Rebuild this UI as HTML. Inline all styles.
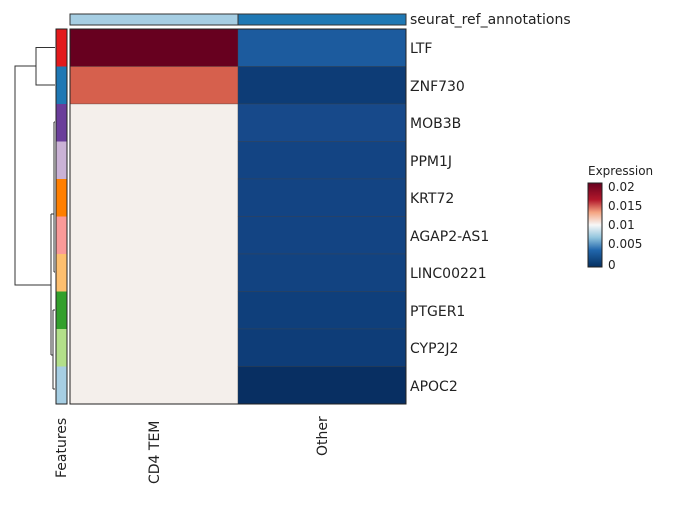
<!DOCTYPE html>
<html><head><style>
body{margin:0;background:#fff;width:678px;height:500px;overflow:hidden}
svg text{font-family:"DejaVu Sans","Liberation Sans",sans-serif;fill:#222}
</style></head><body>
<svg width="678" height="500" xmlns="http://www.w3.org/2000/svg">
<defs><linearGradient id="g" x1="0" y1="1" x2="0" y2="0">
<stop offset="0" stop-color="#053061"/><stop offset="0.2" stop-color="#2166ac"/><stop offset="0.35" stop-color="#92c5de"/><stop offset="0.5" stop-color="#f7f7f7"/><stop offset="0.65" stop-color="#f4a582"/><stop offset="0.8" stop-color="#b2182b"/><stop offset="1" stop-color="#67001f"/></linearGradient></defs>
<rect x="70" y="14" width="168" height="11" fill="#a6cee3" stroke="#333" stroke-width="1"/>
<rect x="238" y="14" width="168" height="11" fill="#1f78b4" stroke="#333" stroke-width="1"/>
<text x="410" y="24" font-size="14">seurat_ref_annotations</text>
<g stroke="#444" stroke-width="0.3">
<rect x="70" y="29" width="168" height="37.5" fill="#67001f"/>
<rect x="70" y="66.5" width="168" height="37.5" fill="#d6604d"/>
<rect x="70" y="104" width="168" height="300" fill="#f4efeb"/>
<rect x="238" y="29" width="168" height="37.5" fill="#1c5b9e"/>
<rect x="238" y="66.5" width="168" height="37.5" fill="#0d3c76"/>
<rect x="238" y="104" width="168" height="37.5" fill="#17498a"/>
<rect x="238" y="141.5" width="168" height="37.5" fill="#134483"/>
<rect x="238" y="179" width="168" height="37.5" fill="#134483"/>
<rect x="238" y="216.5" width="168" height="37.5" fill="#134483"/>
<rect x="238" y="254" width="168" height="37.5" fill="#124381"/>
<rect x="238" y="291.5" width="168" height="37.5" fill="#0f3f7b"/>
<rect x="238" y="329" width="168" height="37.5" fill="#0e3d78"/>
<rect x="238" y="366.5" width="168" height="37.5" fill="#082f62"/>
</g>
<rect x="70" y="29" width="336" height="375" fill="none" stroke="#222" stroke-width="1"/>
<g>
<rect x="56" y="29" width="11" height="37.5" fill="#e31a1c"/>
<rect x="56" y="66.5" width="11" height="37.5" fill="#1f78b4"/>
<rect x="56" y="104" width="11" height="37.5" fill="#6a3d9a"/>
<rect x="56" y="141.5" width="11" height="37.5" fill="#cab2d6"/>
<rect x="56" y="179" width="11" height="37.5" fill="#ff7f00"/>
<rect x="56" y="216.5" width="11" height="37.5" fill="#fb9a99"/>
<rect x="56" y="254" width="11" height="37.5" fill="#fdbf6f"/>
<rect x="56" y="291.5" width="11" height="37.5" fill="#33a02c"/>
<rect x="56" y="329" width="11" height="37.5" fill="#b2df8a"/>
<rect x="56" y="366.5" width="11" height="37.5" fill="#a6cee3"/>
<rect x="56" y="29" width="11" height="375" fill="none" stroke="#222" stroke-width="1"/>
</g>
<g stroke="#333" stroke-width="1" fill="none">
<path d="M55 47.5H36V85H55M36 66H15V285H51"/>
<path d="M51 214V355M51 214H54M51 355H53M54 122V272M54 122H55M54 272H55M53 310V389M53 310H55M53 389H55"/>
</g>
<g font-size="14">
<text x="410" y="53">LTF</text><text x="410" y="91">ZNF730</text><text x="410" y="128">MOB3B</text>
<text x="410" y="166">PPM1J</text><text x="410" y="203">KRT72</text><text x="410" y="241">AGAP2-AS1</text>
<text x="410" y="278">LINC00221</text><text x="410" y="316">PTGER1</text><text x="410" y="353">CYP2J2</text>
<text x="410" y="391">APOC2</text>
<text transform="translate(159,484) rotate(-90)">CD4 TEM</text>
<text transform="translate(327,456) rotate(-90)">Other</text>
<text transform="translate(66,478) rotate(-90)">Features</text>
</g>
<text x="588" y="175" font-size="12">Expression</text>
<rect x="588" y="183" width="14" height="84" fill="url(#g)" stroke="#222" stroke-width="1"/>
<g font-size="12"><text x="608" y="191">0.02</text><text x="608" y="210">0.015</text><text x="608" y="229">0.01</text><text x="608" y="248">0.005</text><text x="608" y="269">0</text></g>
</svg>
</body></html>
